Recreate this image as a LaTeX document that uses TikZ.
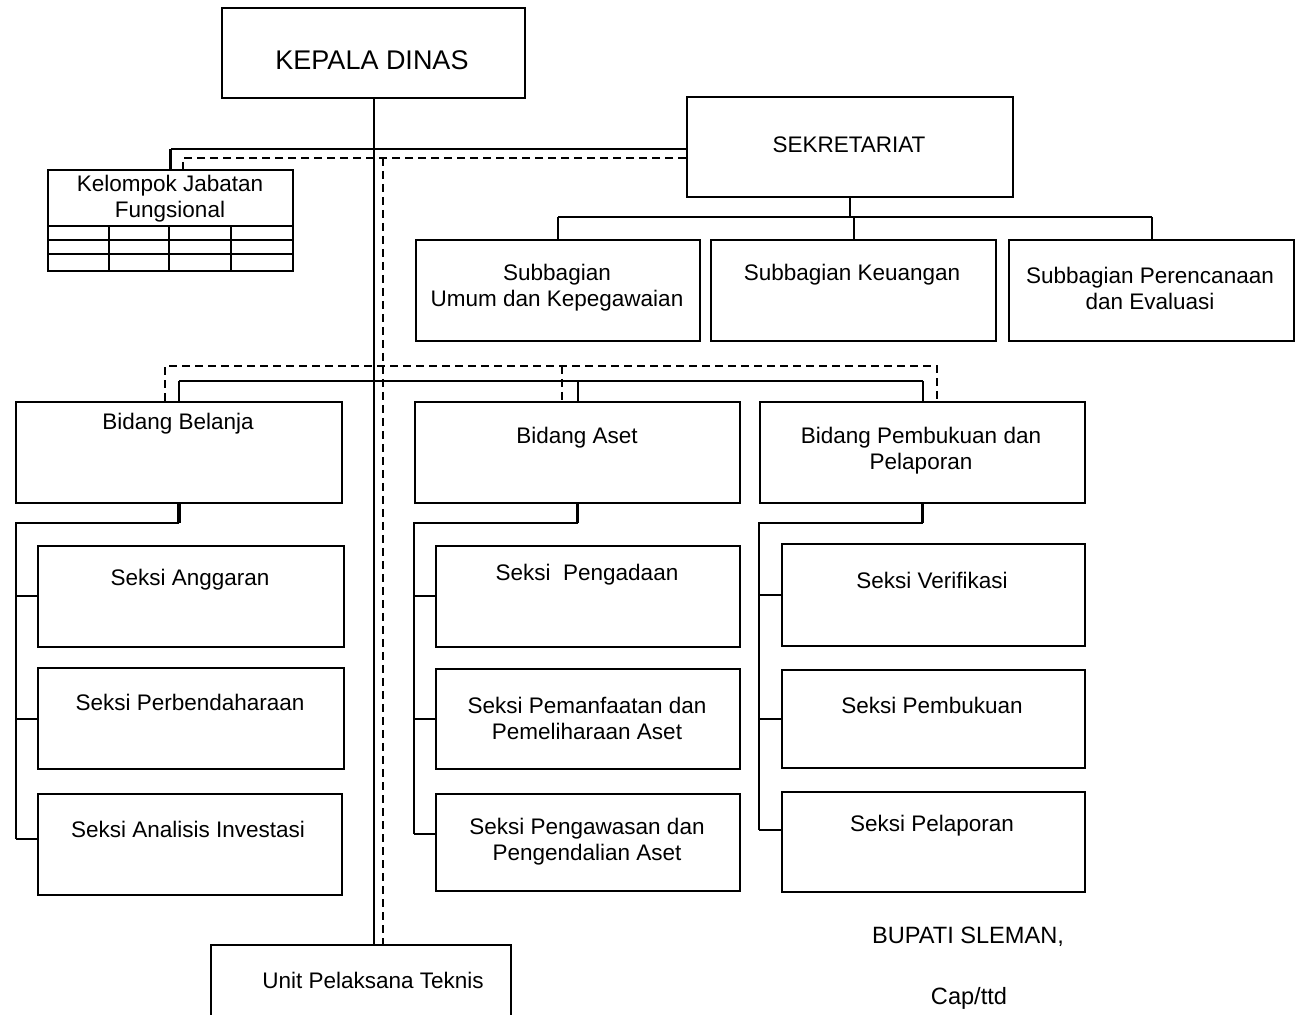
\documentclass[tikz,border=0pt]{standalone}
\usepackage{fontspec}
\setmainfont{Liberation Sans}
\begin{document}
\begin{tikzpicture}[x=0.5pt,y=-0.5pt,
  box/.style={draw, line width=1pt, inner sep=0pt, anchor=north west},
  sz/.style 2 args={minimum width=#1*0.5pt, minimum height=#2*0.5pt},
  txt/.style={inner sep=0pt, align=center, font=\fontsize{11.25}{13}\selectfont},
  ln/.style={line width=1pt},
  stub/.style={line width=1.8pt},
  dsh/.style={line width=1pt, dash pattern=on 4pt off 2.5pt}]
\useasboundingbox (0,0) rectangle (1296,1015);

% ---- boxes ----
\node[box, sz={303}{90}]  (kd)  at (221,7)   {};
\node[box, sz={326}{100}] (sek) at (686,96)  {};
\node[box, sz={245}{101}] (kjf) at (47,169)  {};
\node[box, sz={284}{101}] (sb1) at (415,239) {};
\node[box, sz={285}{101}] (sb2) at (710,239) {};
\node[box, sz={285}{101}] (sb3) at (1008,239) {};
\node[box, sz={326}{101}] (bb)  at (15,401)  {};
\node[box, sz={325}{101}] (ba)  at (414,401) {};
\node[box, sz={325}{101}] (bp)  at (759,401) {};
\node[box, sz={306}{101}] (s11) at (37,545)  {};
\node[box, sz={306}{101}] (s12) at (37,667)  {};
\node[box, sz={304}{101}] (s13) at (37,793)  {};
\node[box, sz={304}{101}] (s21) at (435,545) {};
\node[box, sz={304}{100}] (s22) at (435,668) {};
\node[box, sz={304}{97}]  (s23) at (435,793) {};
\node[box, sz={303}{102}] (s31) at (781,543) {};
\node[box, sz={303}{98}]  (s32) at (781,669) {};
\node[box, sz={303}{100}] (s33) at (781,791) {};
\node[box, sz={300}{100}] (upt) at (210,944) {};

% grid under the functional group title
\foreach \yy in {226,240,254} \draw[ln] (47,\yy) -- (292,\yy);
\foreach \xx in {109,169,231} \draw[ln] (\xx,226) -- (\xx,270);

% ---- texts ----
\node[txt, font=\fontsize{13.5}{16}\selectfont] (t-kd) at (372,60) {KEPALA DINAS};
\node[txt] (t-sek) at (849,145) {SEKRETARIAT};
\node[txt] (t-kjf) at (170,199) {Kelompok Jabatan\\Fungsional};
\node[txt] (t-sb1) at (557,288) {Subbagian\\Umum dan Kepegawaian};
\node[txt] (t-sb2) at (852,275) {Subbagian Keuangan};
\node[txt] (t-sb3) at (1150,288) {Subbagian Perencanaan\\dan Evaluasi};
\node[txt] (t-bb) at (178,424) {Bidang Belanja};
\node[txt] (t-ba) at (577,438) {Bidang Aset};
\node[txt] (t-bp) at (921,451) {Bidang Pembukuan dan\\Pelaporan};
\node[txt] (t-s11) at (190,580) {Seksi Anggaran};
\node[txt] (t-s12) at (190,702) {Seksi Perbendaharaan};
\node[txt] (t-s13) at (188,829) {Seksi Analisis Investasi};
\node[txt] (t-s21) at (587,575) {Seksi\ \ Pengadaan};
\node[txt] (t-s22) at (587,718) {Seksi Pemanfaatan dan\\Pemeliharaan Aset};
\node[txt] (t-s23) at (587,842) {Seksi Pengawasan dan\\Pengendalian Aset};
\node[txt] (t-s31) at (932,580) {Seksi Verifikasi};
\node[txt] (t-s32) at (932,705) {Seksi Pembukuan};
\node[txt] (t-s33) at (932,826) {Seksi Pelaporan};
\node[txt] (t-upt) at (373,980) {Unit Pelaksana Teknis};
\node[txt, font=\fontsize{11.8}{14}\selectfont] (bup) at (968,937) {BUPATI SLEMAN,};
\node[txt, font=\fontsize{11.8}{14}\selectfont] (cap) at (969,998) {Cap/ttd};

% ---- guide coordinates ----
\coordinate (sp)  at (374,0);   % solid spine
\coordinate (dsp) at (383,0);   % dashed spine
\coordinate (hy)  at (0,149);
\coordinate (dy)  at (0,158);
\coordinate (dx)  at (183,0);
\coordinate (sy)  at (0,217);
\coordinate (by)  at (0,381);
\coordinate (bdy) at (0,366);
\coordinate (d1)  at (165,0);
\coordinate (d2)  at (562,0);
\coordinate (d3)  at (937,0);
\coordinate (gy)  at (0,523);
\coordinate (g1)  at (16,0);
\coordinate (g2)  at (414,0);
\coordinate (g3)  at (759,0);

% ---- solid command lines ----
\draw[ln] (kd.south -| sp) -- (upt.north -| sp);
\draw[ln] (sek.west |- hy) -- (kjf.north |- hy);
\draw[stub] (kjf.north |- hy) -- (kjf.north);

\draw[ln] (sek.south) -- (sek.south |- sy);
\draw[ln] (sb1.north |- sy) -- (sb3.north |- sy);
\foreach \n in {sb1,sb2,sb3} \draw[ln] (\n.north |- sy) -- (\n.north);

\draw[ln] (bb.north |- by) -- (bp.north |- by);
\foreach \n in {bb,ba,bp} \draw[ln] (\n.north |- by) -- (\n.north);

% ---- dashed coordination lines ----
\draw[dsh] (sek.west |- dy) -- (dx |- dy) -- (dx |- kjf.north);
\draw[dsh] (dsp |- dy) -- (upt.north -| dsp);
\draw[dsh] (d1 |- bb.north) -- (d1 |- bdy) -- (d3 |- bdy) -- (d3 |- bp.north);
\draw[dsh] (d2 |- bdy) -- (d2 |- ba.north);

% ---- bidang to seksi ----
\draw[stub] (bb.south) -- (bb.south |- gy);
\draw[ln] (bb.south |- gy) -- (g1 |- gy) -- ([yshift=3pt]g1 |- s13.west);
\draw[ln] (g1 |- s11.west) -- (s11.west);
\draw[ln] (g1 |- s12.west) -- (s12.west);
\draw[ln] ([yshift=3pt]g1 |- s13.west) -- ([yshift=3pt]s13.west);

\draw[stub] (ba.south) -- (ba.south |- gy);
\draw[ln] (ba.south |- gy) -- (g2 |- gy) -- ([yshift=4.5pt]g2 |- s23.west);
\draw[ln] (g2 |- s21.west) -- (s21.west);
\draw[ln] (g2 |- s22.west) -- (s22.west);
\draw[ln] ([yshift=4.5pt]g2 |- s23.west) -- ([yshift=4.5pt]s23.west);

\draw[stub] (bp.south) -- (bp.south |- gy);
\draw[ln] (bp.south |- gy) -- (g3 |- gy) -- ([yshift=6pt]g3 |- s33.west);
\draw[ln] (g3 |- s31.west) -- (s31.west);
\draw[ln] (g3 |- s32.west) -- (s32.west);
\draw[ln] ([yshift=6pt]g3 |- s33.west) -- ([yshift=6pt]s33.west);
\end{tikzpicture}
\end{document}
